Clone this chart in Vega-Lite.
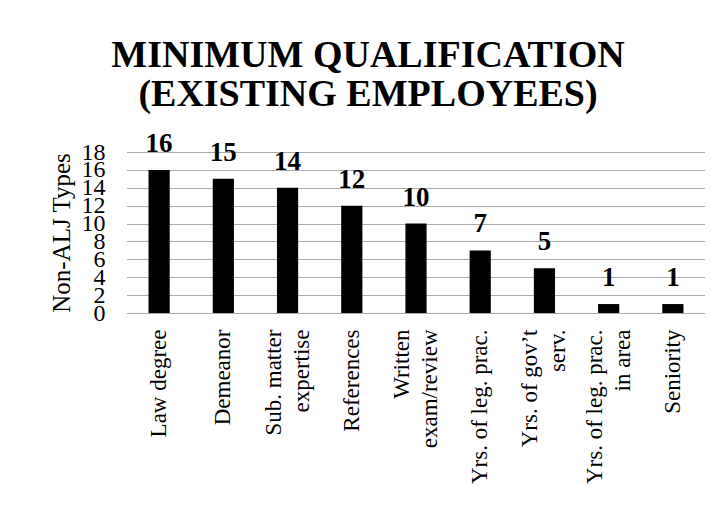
{
  "$schema": "https://vega.github.io/schema/vega-lite/v6.json",
  "width": 578,
  "height": 161,
  "autosize": {"type": "none"},
  "padding": {"left": 127, "top": 152, "right": 23, "bottom": 195},
  "background": "white",
  "title": {
    "text": ["MINIMUM QUALIFICATION", "(EXISTING EMPLOYEES)"],
    "font": "Liberation Serif",
    "fontSize": 38,
    "fontWeight": "bold",
    "color": "black",
    "anchor": "middle",
    "frame": "group",
    "dx": -48,
    "lineHeight": 39,
    "offset": 16
  },
  "data": {
    "values": [
      {"qualification": "Law degree", "count": 16},
      {"qualification": "Demeanor", "count": 15},
      {"qualification": "Sub. matter\nexpertise", "count": 14},
      {"qualification": "References", "count": 12},
      {"qualification": "Written\nexam/review", "count": 10},
      {"qualification": "Yrs. of leg. prac.", "count": 7},
      {"qualification": "Yrs. of gov’t\nserv.", "count": 5},
      {"qualification": "Yrs. of leg. prac.\nin area", "count": 1},
      {"qualification": "Seniority", "count": 1}
    ]
  },
  "encoding": {
    "x": {
      "field": "qualification",
      "type": "nominal",
      "sort": null,
      "scale": {"paddingInner": 0.67, "paddingOuter": 0.335},
      "axis": {
        "title": null,
        "labelAngle": -90,
        "labelAlign": "right",
        "labelBaseline": "middle",
        "labelFont": "Liberation Serif",
        "labelFontSize": 23,
        "labelColor": "black",
        "labelPadding": 16,
        "labelLineHeight": 28,
        "labelLimit": 0,
        "labelOverlap": false,
        "labelOffset": {
          "condition": {"test": "indexof(datum.value, '\\n') >= 0", "value": -14},
          "value": 0
        },
        "labelExpr": "split(datum.label, '\\n')",
        "ticks": false,
        "domain": false,
        "grid": false
      }
    },
    "y": {
      "field": "count",
      "type": "quantitative",
      "scale": {"domain": [0, 18]},
      "axis": {
        "title": "Non-ALJ Types",
        "titleFont": "Liberation Serif",
        "titleFontSize": 25,
        "titleFontWeight": "normal",
        "titleColor": "black",
        "titlePadding": 7,
        "labelFont": "Liberation Serif",
        "labelFontSize": 24,
        "labelColor": "black",
        "labelPadding": 22,
        "labelOverlap": false,
        "labelFlush": false,
        "values": [0, 2, 4, 6, 8, 10, 12, 14, 16, 18],
        "ticks": false,
        "domain": false,
        "grid": true,
        "gridColor": "#555555",
        "gridDash": [1, 1],
        "gridWidth": 1
      }
    }
  },
  "layer": [
    {"mark": {"type": "bar", "color": "black"}},
    {
      "mark": {
        "type": "text",
        "dy": -18,
        "baseline": "alphabetic",
        "font": "Liberation Serif",
        "fontSize": 27,
        "fontWeight": "bold",
        "color": "black"
      },
      "encoding": {"text": {"field": "count", "type": "quantitative"}}
    }
  ],
  "config": {"view": {"stroke": null}}
}
